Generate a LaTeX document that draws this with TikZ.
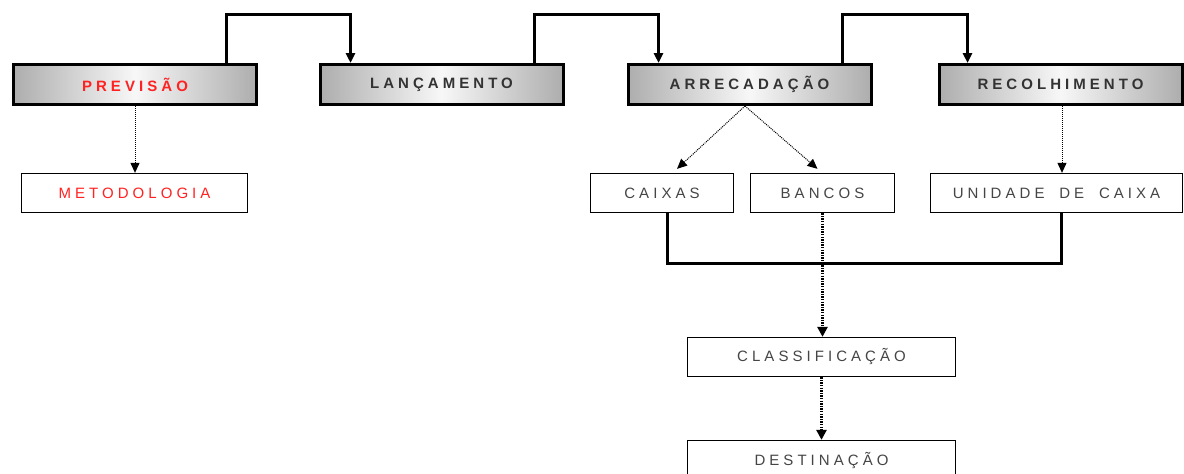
\documentclass[tikz,border=0pt]{standalone}
\usepackage{fontspec}
\setmainfont{Liberation Sans}
\newfontfamily\spc[LetterSpace=27,WordSpace=1.8]{Liberation Sans}
\usetikzlibrary{arrows.meta}
\definecolor{txtdark}{HTML}{333333}
\definecolor{txtgray}{HTML}{454545}
\definecolor{txtred}{HTML}{FF2222}
\tikzset{
  topbox/.style={draw=black, line width=3pt, minimum width=243pt, minimum height=40pt,
    left color=black!32, right color=black!32, middle color=black!3,
    font=\spc\bfseries\fontsize{15}{17}\selectfont, text=txtdark, inner sep=0pt},
  lowbox/.style={draw=black, line width=1.3pt, minimum height=39pt, fill=white,
    font=\spc\fontsize{15}{17}\selectfont, text=txtgray, inner sep=0pt},
  conn/.style={line width=3pt, line join=miter},
  arrowconn/.style={conn, -{Triangle[length=10pt,width=9pt]}},
  dotarrow/.style={line width=1pt, dash pattern=on 1pt off 1pt, -{Triangle[length=10pt,width=9pt]}},
  thickdot/.style={line width=2.6pt, dash pattern=on 1.4pt off 1.2pt, -{Triangle[length=10pt,width=10pt]}},
}
\begin{document}
\begin{tikzpicture}[x=1pt,y=-1pt]
\useasboundingbox (0,0) rectangle (1184,474);
\clip (0,0) rectangle (1184,474);
% top row
\node[topbox, text=txtred] (prev) at (135,84.5) {PREVISÃO};
\node[topbox] (lanc) at (441.5,84.5) {LANÇAMENTO};
\node[topbox] (arr) at (749.5,84.5) {ARRECADAÇÃO};
\node[topbox] (rec) at (1060.5,84.5) {RECOLHIMENTO};
% second row
\node[lowbox, minimum width=226pt, text=txtred] (met) at (134.5,193) {METODOLOGIA};
\node[lowbox, minimum width=143pt] (cx) at (662,193) {CAIXAS};
\node[lowbox, minimum width=144pt] (bc) at (822.5,193) {BANCOS};
\node[lowbox, minimum width=252pt] (un) at (1056.5,193) {UNIDADE DE CAIXA};
\node[lowbox, minimum width=268pt] (cl) at (821.5,357) {CLASSIFICAÇÃO};
\node[lowbox, minimum width=268pt] (de) at (821.5,460) {DESTINAÇÃO};
% top connectors
\draw[arrowconn] ([xshift=91pt]prev.north) -- ++(0,-49) -| ([xshift=-91pt]lanc.north);
\draw[arrowconn] ([xshift=93pt]lanc.north) -- ++(0,-49) -| ([xshift=-91pt]arr.north);
\draw[arrowconn] ([xshift=93pt]arr.north) -- ++(0,-49) -| ([xshift=-93pt]rec.north);
% dotted arrows
\draw[dotarrow] (prev.south) -- (prev.south |- met.north);
\coordinate (cxin) at ([xshift=15pt,yshift=4pt]cx.north);
\coordinate (bcin) at ([xshift=-5pt,yshift=4pt]bc.north);
\draw[dotarrow] ([xshift=-4.5pt]arr.south) -- (cxin);
\draw[dotarrow] ([xshift=-4.5pt]arr.south) -- (bcin);
\draw[dotarrow] ([xshift=1.5pt]rec.south) -- ([xshift=1.5pt]rec.south |- un.north);
% bottom connector
\draw[conn] ([xshift=5pt]cx.south) -- ++(0,50) -| ([xshift=4.5pt]un.south);
\draw[thickdot] (bc.south) -- (bc.south |- cl.north);
\draw[thickdot] (cl.south) -- (de.north);
\end{tikzpicture}
\end{document}
